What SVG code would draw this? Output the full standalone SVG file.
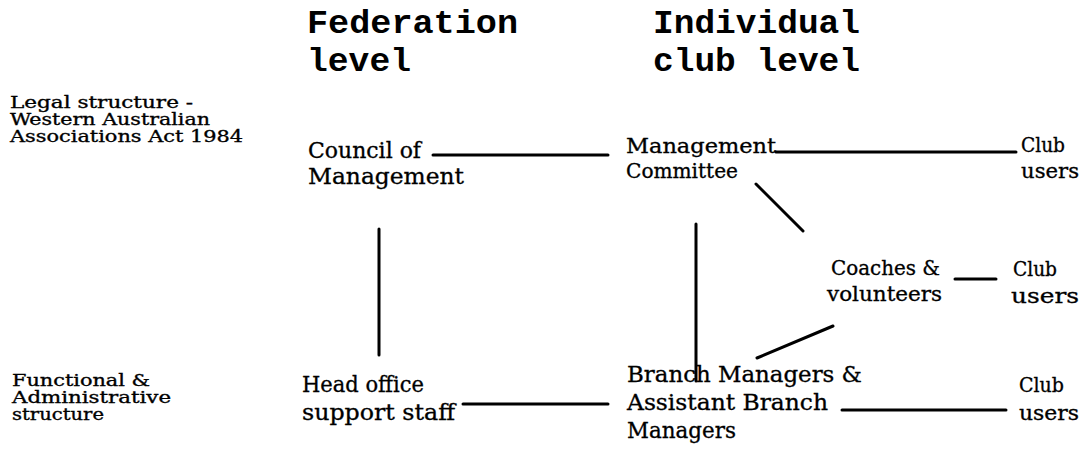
<svg xmlns="http://www.w3.org/2000/svg" width="1086" height="451" viewBox="0 0 1086 451">
  <style>
    .head { font-family: "Liberation Mono", "Courier New", monospace; font-weight: bold; font-size: 33px; fill: #000; }
    .side { font-family: "DejaVu Serif", "Liberation Serif", serif; font-stretch: condensed; font-size: 16px; fill: #000; stroke: #000; stroke-width: 0.3; }
    .node { font-family: "DejaVu Serif", "Liberation Serif", serif; font-stretch: condensed; font-size: 23px; fill: #000; stroke: #000; stroke-width: 0.3; }
    .small { font-size: 21px; }
    .link { stroke: #000; stroke-width: 3; stroke-linecap: round; fill: none; }
  </style>
  <rect width="1086" height="451" fill="#fff"/>

  <!-- column headings -->
  <g id="heading-federation">
    <text class="head" x="307" y="33" textLength="211" lengthAdjust="spacingAndGlyphs">Federation</text>
    <text class="head" x="307" y="71" textLength="104" lengthAdjust="spacingAndGlyphs">level</text>
  </g>
  <g id="heading-club">
    <text class="head" x="653" y="33" textLength="207" lengthAdjust="spacingAndGlyphs">Individual</text>
    <text class="head" x="653" y="71" textLength="207" lengthAdjust="spacingAndGlyphs">club level</text>
  </g>

  <!-- row labels -->
  <g id="row-legal">
    <text class="side" x="10" y="108" textLength="183" lengthAdjust="spacingAndGlyphs">Legal structure -</text>
    <text class="side" x="10" y="125" textLength="200" lengthAdjust="spacingAndGlyphs">Western Australian</text>
    <text class="side" x="10" y="142" textLength="233" lengthAdjust="spacingAndGlyphs">Associations Act 1984</text>
  </g>
  <g id="row-functional">
    <text class="side" x="12" y="386" textLength="138" lengthAdjust="spacingAndGlyphs">Functional &amp;</text>
    <text class="side" x="12" y="403" textLength="159" lengthAdjust="spacingAndGlyphs">Administrative</text>
    <text class="side" x="12" y="420" textLength="92" lengthAdjust="spacingAndGlyphs">structure</text>
  </g>

  <!-- nodes -->
  <g id="council">
    <text class="node" x="308" y="158" textLength="113" lengthAdjust="spacingAndGlyphs">Council of</text>
    <text class="node" x="308" y="184" textLength="156" lengthAdjust="spacingAndGlyphs">Management</text>
  </g>
  <g id="committee">
    <text class="node small" x="626" y="153" textLength="150" lengthAdjust="spacingAndGlyphs">Management</text>
    <text class="node small" x="626" y="178" textLength="112" lengthAdjust="spacingAndGlyphs">Committee</text>
  </g>
  <g id="users-top">
    <text class="node small" x="1021" y="152" textLength="44" lengthAdjust="spacingAndGlyphs">Club</text>
    <text class="node small" x="1021" y="178" textLength="58" lengthAdjust="spacingAndGlyphs">users</text>
  </g>
  <g id="coaches">
    <text class="node small" x="831" y="275" textLength="109" lengthAdjust="spacingAndGlyphs">Coaches &amp;</text>
    <text class="node small" x="827" y="301" textLength="115" lengthAdjust="spacingAndGlyphs">volunteers</text>
  </g>
  <g id="users-mid">
    <text class="node small" x="1013" y="276" textLength="44" lengthAdjust="spacingAndGlyphs">Club</text>
    <text class="node small" x="1011" y="303" textLength="68" lengthAdjust="spacingAndGlyphs">users</text>
  </g>
  <g id="head-office">
    <text class="node" x="302" y="392" textLength="122" lengthAdjust="spacingAndGlyphs">Head office</text>
    <text class="node" x="302" y="420" textLength="153" lengthAdjust="spacingAndGlyphs">support staff</text>
  </g>
  <g id="branch">
    <text class="node" x="627" y="382" textLength="235" lengthAdjust="spacingAndGlyphs">Branch Managers &amp;</text>
    <text class="node" x="627" y="410" textLength="201" lengthAdjust="spacingAndGlyphs">Assistant Branch</text>
    <text class="node" x="627" y="438" textLength="109" lengthAdjust="spacingAndGlyphs">Managers</text>
  </g>
  <g id="users-bottom">
    <text class="node small" x="1019" y="392" textLength="45" lengthAdjust="spacingAndGlyphs">Club</text>
    <text class="node small" x="1019" y="420" textLength="60" lengthAdjust="spacingAndGlyphs">users</text>
  </g>

  <!-- connectors -->
  <g id="connectors">
    <line class="link" x1="433" y1="155" x2="608" y2="155"/>
    <line class="link" x1="776" y1="152" x2="1016" y2="152"/>
    <line class="link" x1="379" y1="229" x2="379" y2="355"/>
    <line class="link" x1="696" y1="224" x2="696" y2="381"/>
    <line class="link" x1="756" y1="184" x2="803" y2="231"/>
    <line class="link" x1="955" y1="279" x2="996" y2="279"/>
    <line class="link" x1="757" y1="358" x2="833" y2="326"/>
    <line class="link" x1="463" y1="404" x2="608" y2="404"/>
    <line class="link" x1="842" y1="410" x2="1006" y2="410"/>
  </g>
</svg>
